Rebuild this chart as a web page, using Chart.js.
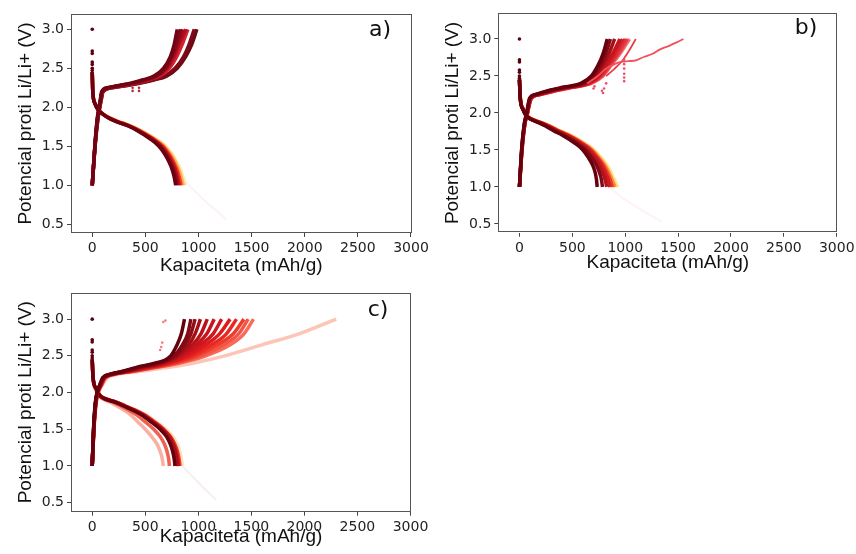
<!DOCTYPE html>
<html>
<head>
<meta charset="utf-8">
<script src="https://cdn.jsdelivr.net/npm/chart.js@4.4.1/dist/chart.umd.min.js"></script>
<style>
  html, body { margin: 0; padding: 0; background: #fff; }
  body { width: 856px; height: 554px; position: relative; overflow: hidden; }
  canvas { position: absolute; }
</style>
</head>
<body>
<canvas id="chartA" width="430" height="280" style="left:0;top:0"></canvas>
<canvas id="chartB" width="426" height="280" style="left:430px;top:0"></canvas>
<canvas id="chartC" width="430" height="274" style="left:0;top:280px"></canvas>
<script>
// ---- values ----
const xTicks = [0, 500, 1000, 1500, 2000, 2500, 3000];
const yTicks = [0.5, 1.0, 1.5, 2.0, 2.5, 3.0];
const xTitle = "Kapaciteta (mAh/g)";
const yTitle = "Potencial proti Li/Li+ (V)";

// voltage levels at which each cycle's capacity was read
const chargeV = [1.0, 1.5, 1.85, 2.0, 2.1, 2.2, 2.25, 2.28, 2.31, 2.35, 2.4, 2.5, 2.65, 2.8, 3.0];
const dischargeV = [2.45, 2.2, 2.05, 1.97, 1.92, 1.87, 1.82, 1.76, 1.7, 1.6, 1.5, 1.4, 1.3, 1.2, 1.1, 1.0];
// first points of the discharges, sitting at zero capacity
const startV = [3.0, 2.72, 2.69, 2.58, 2.55, 2.5, 2.47];

// a) capacities per cycle (mAh/g), early/light cycles first
const aCharge = [
  [0, 27, 54, 72, 86, 102, 185, 330, 455, 580, 700, 800, 880, 935, 985],
  [0, 26, 52, 70, 84, 100, 180, 320, 440, 560, 680, 780, 860, 910, 960],
  [0, 26, 51, 69, 82, 97, 168, 295, 415, 525, 635, 725, 795, 845, 900],
  [0, 25, 50, 68, 80, 95, 160, 280, 400, 510, 620, 705, 770, 815, 880],
  [0, 25, 49, 67, 79, 93, 155, 270, 390, 500, 610, 695, 755, 800, 850],
  [0, 25, 48, 66, 78, 92, 150, 260, 380, 490, 600, 688, 748, 790, 830],
  [0, 24, 46, 64, 76, 88, 140, 250, 360, 470, 580, 670, 735, 770, 800]
];
const aDischarge = [
  [0, 6, 28, 60, 100, 160, 245, 370, 465, 590, 690, 750, 795, 830, 855, 875],
  [0, 6, 27, 58, 98, 157, 240, 362, 455, 580, 678, 738, 782, 815, 838, 858],
  [0, 5, 26, 56, 96, 153, 235, 356, 448, 570, 665, 722, 765, 798, 820, 838],
  [0, 5, 25, 55, 95, 150, 230, 350, 440, 560, 652, 708, 750, 782, 803, 818],
  [0, 5, 25, 54, 93, 147, 225, 343, 432, 550, 640, 695, 735, 766, 787, 800],
  [0, 5, 24, 53, 92, 145, 220, 338, 425, 540, 628, 682, 722, 752, 772, 785]
];
const aFirst = [[700, 1.4], [800, 1.23], [880, 1.05], [1000, 0.88], [1100, 0.75], [1200, 0.64], [1260, 0.56]];
const aDots = [[380, 2.21], [380, 2.25], [440, 2.21], [440, 2.25]];

// b)
const bCharge = [
  [0, 25, 52, 78, 92, 115, 200, 290, 380, 520, 680, 790, 870, 950, 1040],
  [0, 24, 51, 77, 91, 113, 195, 282, 370, 510, 670, 780, 860, 935, 1020],
  [0, 24, 51, 76, 90, 112, 190, 275, 360, 500, 660, 770, 850, 920, 1000],
  [0, 23, 50, 75, 89, 110, 185, 268, 350, 490, 650, 757, 835, 900, 975],
  [0, 23, 50, 74, 88, 108, 180, 260, 340, 480, 640, 745, 820, 880, 950],
  [0, 22, 48, 72, 85, 104, 170, 245, 325, 460, 620, 720, 790, 845, 900],
  [0, 21, 46, 70, 82, 100, 160, 230, 310, 440, 600, 700, 765, 815, 860],
  [0, 20, 45, 68, 80, 96, 150, 220, 295, 420, 580, 680, 745, 790, 830]
];
const bDischarge = [
  [0, 9, 38, 70, 118, 212, 300, 385, 480, 605, 705, 770, 825, 865, 895, 930],
  [0, 9, 37, 68, 115, 207, 292, 375, 468, 592, 690, 752, 805, 845, 875, 905],
  [0, 8, 36, 66, 112, 203, 285, 367, 458, 580, 677, 738, 790, 828, 858, 880],
  [0, 8, 35, 65, 110, 200, 280, 360, 450, 570, 665, 725, 775, 810, 838, 855],
  [0, 8, 34, 63, 106, 193, 270, 348, 436, 553, 645, 703, 750, 785, 810, 825],
  [0, 7, 33, 61, 102, 186, 260, 335, 420, 535, 625, 680, 725, 755, 775, 785],
  [0, 7, 32, 60, 98, 180, 250, 322, 405, 515, 600, 650, 690, 715, 728, 735]
];
const bLong = [[640, 2.4], [740, 2.5], [820, 2.6], [900, 2.66], [960, 2.69], [1030, 2.7], [1100, 2.71],
  [1180, 2.76], [1260, 2.8], [1330, 2.86], [1420, 2.91], [1480, 2.95], [1550, 3.0]];
const bShort = [[820, 2.5], [900, 2.6], [980, 2.72], [1040, 2.85], [1100, 3.0]];
const bFirst = [[850, 1.0], [950, 0.88], [1050, 0.78], [1200, 0.65], [1350, 0.53]];
const bDots = [[990, 2.43], [990, 2.48], [990, 2.53], [990, 2.6], [990, 2.66], [990, 2.72],
  [700, 2.33], [710, 2.36], [780, 2.3], [790, 2.27], [800, 2.33], [820, 2.4]];

// c)
const cCharge = [
  [0, 18, 38, 60, 95, 140, 240, 400, 560, 750, 950, 1250, 1600, 1950, 2300],
  [0, 16, 35, 55, 88, 125, 215, 350, 480, 640, 820, 1070, 1300, 1430, 1520],
  [0, 16, 35, 54, 86, 122, 210, 340, 465, 620, 795, 1025, 1240, 1380, 1470],
  [0, 15, 34, 53, 84, 120, 205, 330, 450, 600, 770, 980, 1180, 1330, 1430],
  [0, 15, 33, 52, 82, 117, 200, 320, 435, 580, 745, 940, 1125, 1265, 1360],
  [0, 15, 33, 51, 80, 115, 195, 310, 420, 560, 720, 900, 1070, 1200, 1300],
  [0, 14, 32, 50, 78, 112, 190, 300, 405, 540, 700, 870, 1020, 1140, 1220],
  [0, 14, 32, 50, 77, 110, 188, 295, 395, 520, 680, 840, 980, 1080, 1150],
  [0, 14, 31, 49, 76, 108, 185, 288, 385, 505, 665, 820, 945, 1025, 1085],
  [0, 14, 31, 48, 75, 106, 182, 282, 375, 490, 650, 800, 910, 970, 1020],
  [0, 13, 30, 47, 73, 104, 178, 275, 362, 472, 632, 782, 875, 930, 970],
  [0, 13, 30, 47, 72, 102, 176, 270, 355, 460, 620, 770, 850, 900, 930],
  [0, 12, 28, 45, 70, 98, 170, 260, 340, 430, 590, 740, 800, 840, 870]
];
const cDischarge = [
  [0, 7, 30, 55, 90, 170, 230, 300, 360, 430, 500, 560, 610, 640, 660, 670],
  [0, 7, 33, 60, 100, 195, 265, 345, 415, 500, 580, 640, 680, 705, 720, 728],
  [0, 9, 42, 72, 122, 235, 320, 420, 505, 605, 695, 760, 800, 825, 840, 850],
  [0, 9, 41, 70, 118, 228, 310, 405, 488, 588, 675, 738, 778, 803, 818, 828],
  [0, 8, 40, 68, 116, 224, 304, 397, 479, 578, 665, 728, 766, 791, 806, 816],
  [0, 8, 39, 67, 114, 220, 298, 390, 470, 568, 655, 718, 755, 780, 795, 805],
  [0, 8, 38, 65, 110, 215, 290, 380, 460, 555, 640, 700, 735, 758, 772, 780]
];
const cFirst = [[850, 1.0], [950, 0.85], [1050, 0.7], [1170, 0.54]];
const cDots = [[640, 2.58], [650, 2.62], [660, 2.68], [670, 2.96], [690, 2.98]];

// ---- styles ----
const aChargeColors = ["#6b0a14", "#7a0a18", "#d42030", "#b3101e", "#a00c1c", "#850818", "#6e0414"];
const aDisColors = ["#ffe8a0", "#fdae61", "#f03b20", "#c0101e", "#8a0a1a", "#6b0010"];
const bChargeColors = ["#f46d6d", "#e8404a", "#e0303a", "#d0202a", "#c8141e", "#a50f15", "#800a18", "#67000d"];
const bDisColors = ["#ffe38a", "#fd8d3c", "#ef3b2c", "#d01c20", "#b5121a", "#800a18", "#67000d"];
const cChargeColors = ["#fcc5b5", "#f86a5a", "#f25545", "#ee3b2c", "#e62a22", "#e01a1c", "#d0161e", "#c8141e",
  "#b8121a", "#a50f15", "#900c16", "#800a18", "#67000d"];
const cDisColors = ["#f9b0a0", "#f06050", "#fde0c0", "#ee3b2c", "#c8141e", "#a50f15", "#67000d"];

const curve = (levels, caps) => caps.map((x, i) => ({x, y: levels[i]}));
const pts = list => list.map(([x, y]) => ({x, y}));

function line(data, color, width, order) {
  return {
    data, showLine: true, borderColor: color, borderWidth: width,
    pointRadius: 0, cubicInterpolationMode: "monotone", order
  };
}
function dots(data, color, r, order) {
  return { data, showLine: false, pointRadius: r, pointBorderWidth: 0,
    pointBackgroundColor: color, backgroundColor: color, order };
}

const frame = {
  id: "frame",
  afterDraw(chart, args, o) {
    const {ctx, chartArea: a} = chart;
    ctx.save();
    ctx.strokeStyle = "#555";
    ctx.lineWidth = 1;
    ctx.strokeRect(Math.round(a.left) + 0.5, Math.round(a.top) + 0.5,
      Math.round(a.width) - 1, Math.round(a.height) - 1);
    ctx.fillStyle = "#111";
    ctx.font = '22px "DejaVu Sans"';
    ctx.textAlign = "center";
    ctx.textBaseline = "middle";
    ctx.fillText(o.label, o.lx, o.ly);
    ctx.restore();
  }
};

function panel(id, p) {
  const ds = [];
  p.charge.forEach((c, i) => ds.push(line(curve(chargeV, c), p.chargeColors[i], 3.5, 100 - i)));
  p.discharge.forEach((c, i) => ds.push(line(curve(dischargeV, c), p.disColors[i], 3.5, 100 - i)));
  p.extra.forEach(e => ds.push(e));
  ds.push(dots(startV.map(v => ({x: 0, y: v})), "#5a0010", 1.8, 0));

  const tickFont = {family: "DejaVu Sans", size: 14};
  const titleFont = {family: "Liberation Sans", size: 19};

  new Chart(document.getElementById(id), {
    type: "scatter",
    data: {datasets: ds},
    plugins: [frame],
    options: {
      responsive: false,
      animation: false,
      events: [],
      layout: {padding: {top: p.top, right: p.right, left: 0, bottom: 0}},
      plugins: {
        legend: {display: false},
        tooltip: {enabled: false},
        frame: {label: p.label, lx: p.lx, ly: p.ly}
      },
      scales: {
        x: {
          type: "linear", min: -200, max: 3005,
          afterBuildTicks: s => { s.ticks = xTicks.map(v => ({value: v})); },
          afterFit: s => { s.height = p.h; s.paddingLeft = 0; s.paddingRight = 0; },
          ticks: {font: tickFont, color: "#222", autoSkip: false, maxRotation: 0, padding: 3,
            callback: v => String(v)},
          grid: {drawOnChartArea: false, tickLength: 4, color: "#444"},
          border: {display: false},
          title: {display: true, text: xTitle, font: titleFont, color: "#111",
            padding: {top: 0, bottom: p.xtPad}}
        },
        y: {
          type: "linear", min: p.yMin, max: p.yMax,
          afterBuildTicks: s => { s.ticks = yTicks.map(v => ({value: v})); },
          afterFit: s => { s.width = p.w; s.paddingTop = 0; s.paddingBottom = 0; },
          ticks: {font: tickFont, color: "#222", padding: 3, callback: v => v.toFixed(1)},
          grid: {drawOnChartArea: false, tickLength: 4, color: "#444"},
          border: {display: false},
          title: {display: true, text: yTitle, font: titleFont, color: "#111",
            padding: {top: p.ytPad, bottom: 0}}
        }
      }
    }
  });
}

panel("chartA", {
  charge: aCharge, chargeColors: aChargeColors,
  discharge: aDischarge, disColors: aDisColors,
  extra: [
    line(pts(aFirst), "rgba(250,190,190,0.22)", 2, 200),
    dots(pts(aDots), "#b0303a", 1.3, 1)
  ],
  yMin: 0.388, yMax: 3.196,
  w: 71, h: 47, top: 14, right: 18.5, ytPad: 14.5, xtPad: 2.5,
  label: "a)", lx: 380, ly: 30
});

panel("chartB", {
  charge: bCharge, chargeColors: bChargeColors,
  discharge: bDischarge, disColors: bDisColors,
  extra: [
    line(pts(bFirst), "rgba(250,200,190,0.22)", 2, 200),
    line(pts(bLong), "#f2505c", 1.8, 50),
    line(pts(bShort), "#e8404a", 1.8, 51),
    dots(pts(bDots), "#f0506a", 1.3, 1)
  ],
  yMin: 0.382, yMax: 3.347,
  w: 68.3, h: 47.3, top: 13.3, right: 18.7, ytPad: 11.5, xtPad: 5.5,
  label: "b)", lx: 376, ly: 28
});

panel("chartC", {
  charge: cCharge, chargeColors: cChargeColors,
  discharge: cDischarge, disColors: cDisColors,
  extra: [
    line(pts(cFirst), "rgba(220,190,200,0.25)", 2, 200),
    dots(pts(cDots), "#f08080", 1.3, 1)
  ],
  yMin: 0.377, yMax: 3.36,
  w: 71, h: 42.3, top: 12.7, right: 19, ytPad: 14.5, xtPad: 5.5,
  label: "c)", lx: 378, ly: 30
});
</script>
</body>
</html>
